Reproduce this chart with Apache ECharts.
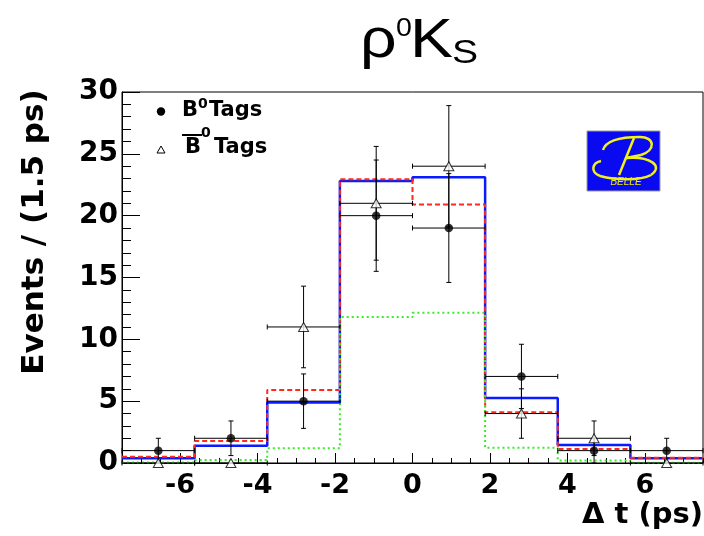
<!DOCTYPE html>
<html>
<head>
<meta charset="utf-8">
<script src="https://cdn.jsdelivr.net/npm/echarts@6/dist/echarts.min.js"></script>
<style>html,body{margin:0;padding:0;background:#fff;}#c{width:704px;height:536px;}</style>
</head>
<body>
<div id="c"></div>
<script>
// ---- data ----
const binEdges = [-7.5, -5.625, -3.75, -1.875, 0, 1.875, 3.75, 5.625, 7.5];
const xTickValues = [-6, -4, -2, 0, 2, 4, 6];

// fit curves (histogram steps)
const fitBlue  = [0.38, 1.40, 4.90, 22.80, 23.10, 5.25, 1.45, 0.38];
const fitRed   = [0.50, 1.78, 5.90, 22.95, 20.90, 4.10, 1.13, 0.43];
const fitGreen = [0.05, 0.24, 1.20, 11.80, 12.15, 1.24, 0.20, 0.03];

// B0 tags (filled circles)
const b0Counts = [1, 2, 5, 20, 19, 7, 1, 1];
const b0Low    = [0, 0.6, 2.8, 15.5, 14.6, 4.4, 0, 0];
const b0High   = [2, 3.4, 7.2, 24.5, 23.4, 9.6, 2, 2];

// anti-B0 tags (open triangles)
const b0barCounts = [0, 0, 11, 21, 24, 4, 2, 0];
const b0barLow    = [0, 0, 7.7, 16.4, 19.1, 2.0, 0.6, 0];
const b0barHigh   = [0, 0, 14.3, 25.6, 28.9, 6.0, 3.4, 0];

// ---- build ----
const centers = binEdges.slice(0, -1).map((e, i) => (e + binEdges[i + 1]) / 2);
function stepData(vals) {
  const d = vals.map((v, i) => [binEdges[i], v]);
  d.push([binEdges[binEdges.length - 1], vals[vals.length - 1]]);
  return d;
}
function errData(vals, lo, hi) {
  return vals.map((v, i) => [centers[i], v, lo[i], hi[i], binEdges[i], binEdges[i + 1]]);
}
function renderErr(params, api) {
  const x = api.value(0), y = api.value(1), lo = api.value(2), hi = api.value(3);
  const xl = api.value(4), xh = api.value(5);
  const p = api.coord([x, y]);
  const a = api.coord([xl, y]), b = api.coord([xh, y]);
  const st = { stroke: '#000', lineWidth: 1 };
  const ch = [
    { type: 'line', shape: { x1: a[0], y1: p[1], x2: b[0], y2: p[1] }, style: st },
    { type: 'line', shape: { x1: a[0], y1: p[1] - 2.5, x2: a[0], y2: p[1] + 2.5 }, style: st },
    { type: 'line', shape: { x1: b[0], y1: p[1] - 2.5, x2: b[0], y2: p[1] + 2.5 }, style: st }
  ];
  if (hi > lo) {
    const l = api.coord([x, lo]), h = api.coord([x, hi]);
    ch.push({ type: 'line', shape: { x1: p[0], y1: l[1], x2: p[0], y2: h[1] }, style: st });
    ch.push({ type: 'line', shape: { x1: p[0] - 2.5, y1: l[1], x2: p[0] + 2.5, y2: l[1] }, style: st });
    ch.push({ type: 'line', shape: { x1: p[0] - 2.5, y1: h[1], x2: p[0] + 2.5, y2: h[1] }, style: st });
  }
  return { type: 'group', children: ch };
}

const FB = 'DejaVu Sans';
const Y = '#f2f21a';
function bz(x1, y1, c1x, c1y, c2x, c2y, x2, y2) {
  return { type: 'bezierCurve', shape: { x1: x1, y1: y1, cpx1: c1x, cpy1: c1y, cpx2: c2x, cpy2: c2y, x2: x2, y2: y2 },
    style: { fill: null, stroke: Y, lineWidth: 2.5 }, z: 10 };
}
const chart = echarts.init(document.getElementById('c'), null, { renderer: 'canvas' });
const option = {
  animation: false,
  backgroundColor: '#fff',
  grid: { left: 122, top: 92, width: 581, height: 371, show: true, borderColor: '#000', borderWidth: 1, backgroundColor: 'transparent' },
  xAxis: [{
    type: 'value', min: -7.5, max: 7.5,
    axisLine: { show: true, onZero: false, lineStyle: { color: '#000', width: 1 } },
    axisTick: { show: true, inside: true, length: 10, customValues: xTickValues, lineStyle: { color: '#000' } },
    axisLabel: { customValues: xTickValues, color: '#000', fontFamily: FB, fontWeight: 'bold', fontSize: 27, margin: 9 },
    splitLine: { show: false }
  }, {
    type: 'value', min: -7.5, max: 7.5, interval: 0.5, position: 'bottom',
    axisLine: { show: false, onZero: false },
    axisTick: { show: true, inside: true, length: 5, lineStyle: { color: '#000' } },
    axisLabel: { show: false },
    splitLine: { show: false }
  }],
  yAxis: {
    type: 'value', min: 0, max: 30, interval: 5,
    axisLine: { show: true, onZero: false, lineStyle: { color: '#000', width: 1 } },
    axisTick: { show: true, inside: true, length: 18, lineStyle: { color: '#000' } },
    minorTick: { show: true, splitNumber: 5, length: 9, lineStyle: { color: '#000' } },
    axisLabel: { color: '#000', fontFamily: FB, fontWeight: 'bold', fontSize: 28, margin: 4 },
    splitLine: { show: false }, minorSplitLine: { show: false }
  },
  series: [
    { type: 'line', step: 'end', data: stepData(fitBlue), showSymbol: false, symbol: 'none',
      lineStyle: { color: '#0a1bff', width: 2.5 }, z: 2 },
    { type: 'line', step: 'end', data: stepData(fitRed), showSymbol: false, symbol: 'none',
      lineStyle: { color: '#ff2a1a', width: 2, type: [5, 3] }, z: 3 },
    { type: 'line', step: 'end', data: stepData(fitGreen), showSymbol: false, symbol: 'none',
      lineStyle: { color: '#33ee22', width: 2, type: [2, 3] }, z: 4 },
    { type: 'custom', renderItem: renderErr, data: errData(b0Counts, b0Low, b0High), encode: { x: 0, y: 1 }, z: 5, clip: false },
    { type: 'custom', renderItem: renderErr, data: errData(b0barCounts, b0barLow, b0barHigh), encode: { x: 0, y: 1 }, z: 5, clip: false },
    { type: 'scatter', data: b0Counts.map((v, i) => [centers[i], v]), symbol: 'circle', symbolSize: 8.5,
      itemStyle: { color: '#000' }, z: 6, clip: false },
    { type: 'scatter', data: b0barCounts.map((v, i) => [centers[i], v]), symbol: 'triangle', symbolSize: [10, 9],
      itemStyle: { color: '#fff', borderColor: '#000', borderWidth: 1 }, z: 6, clip: false }
  ],
  graphic: [
    // title
    { type: 'text', x: 360, y: 42, scaleX: 1.15, style: { text: 'ρ', font: '56px "Liberation Sans"', fill: '#000', verticalAlign: 'middle', align: 'left' } },
    { type: 'text', x: 396, y: 29, scaleX: 1.1, style: { text: '0', font: '26px "Liberation Sans"', fill: '#000', verticalAlign: 'middle', align: 'left' } },
    { type: 'text', x: 410, y: 42, scaleX: 1.15, style: { text: 'K', font: '56px "Liberation Sans"', fill: '#000', verticalAlign: 'middle', align: 'left' } },
    { type: 'text', x: 452, y: 54, scaleX: 1.15, style: { text: 'S', font: '34px "Liberation Sans"', fill: '#000', verticalAlign: 'middle', align: 'left' } },
    // axis titles
    { type: 'text', x: 35, y: 232, rotation: Math.PI / 2, style: { text: 'Events / (1.5 ps)', font: 'bold 31px "DejaVu Sans"', fill: '#000', align: 'center', verticalAlign: 'middle' } },
    { type: 'text', x: 703, y: 515, style: { text: 'Δ t (ps)', font: 'bold 29px "DejaVu Sans"', fill: '#000', align: 'right', verticalAlign: 'middle' } },
    // legend
    { type: 'circle', shape: { cx: 161, cy: 111.5, r: 4.2 }, style: { fill: '#000' } },
    { type: 'text', x: 182, y: 111, style: { text: 'B', font: 'bold 21px "DejaVu Sans"', fill: '#000', verticalAlign: 'middle' } },
    { type: 'text', x: 198, y: 104, style: { text: '0', font: 'bold 14px "DejaVu Sans"', fill: '#000', verticalAlign: 'middle' } },
    { type: 'text', x: 209, y: 111, style: { text: 'Tags', font: 'bold 21px "DejaVu Sans"', fill: '#000', verticalAlign: 'middle' } },
    { type: 'polygon', shape: { points: [[161, 146], [165, 153], [157, 153]] }, style: { fill: '#fff', stroke: '#000', lineWidth: 1 } },
    { type: 'line', shape: { x1: 182, y1: 135, x2: 202, y2: 135 }, style: { stroke: '#000', lineWidth: 2 } },
    { type: 'text', x: 185, y: 148, style: { text: 'B', font: 'bold 21px "DejaVu Sans"', fill: '#000', verticalAlign: 'middle' } },
    { type: 'text', x: 201, y: 133, style: { text: '0', font: 'bold 14px "DejaVu Sans"', fill: '#000', verticalAlign: 'middle' } },
    { type: 'text', x: 214, y: 148, style: { text: 'Tags', font: 'bold 21px "DejaVu Sans"', fill: '#000', verticalAlign: 'middle' } },
    // BELLE logo
    { type: 'rect', shape: { x: 587, y: 131, width: 73, height: 60 }, style: { fill: '#0a0af0', stroke: '#9a9a9a', lineWidth: 1 }, z: 9 },
    bz(603, 150, 606, 140, 622, 137, 640, 137),
    bz(640, 137, 655, 137, 656, 150, 641, 155),
    { type: 'line', shape: { x1: 641, y1: 155, x2: 626, y2: 158 }, style: { stroke: Y, lineWidth: 2.5 }, z: 10 },
    bz(626, 158, 650, 156, 664, 166, 651, 175),
    bz(651, 175, 640, 181, 615, 180, 600, 176),
    bz(600, 176, 590, 172, 592, 163, 601, 161),
    { type: 'line', shape: { x1: 634, y1: 138, x2: 619, y2: 175 }, style: { stroke: Y, lineWidth: 2.5 }, z: 10 },
    { type: 'text', x: 626, y: 182, z: 10, style: { text: 'BELLE', font: 'italic 10px "Liberation Sans"', fill: '#e8e81a', align: 'center', verticalAlign: 'middle' } }
  ]
};
chart.setOption(option);
</script>
</body>
</html>
